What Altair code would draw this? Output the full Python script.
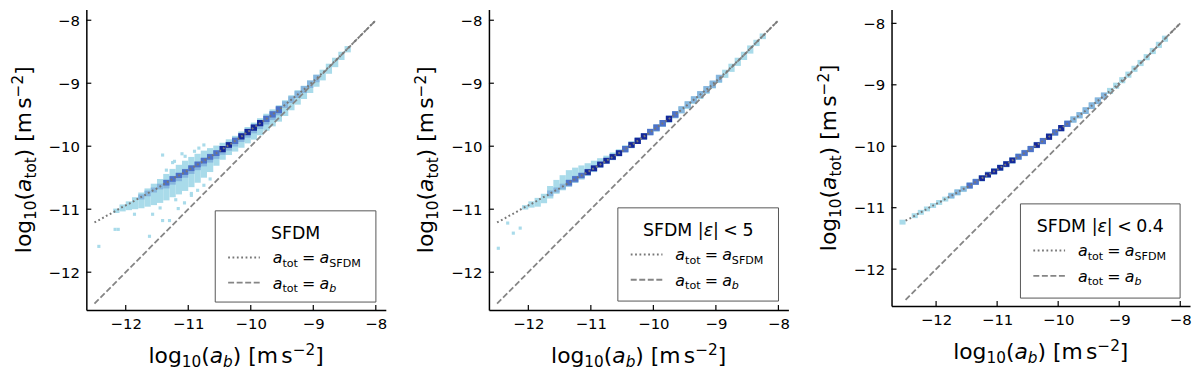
import altair as alt
import pandas as pd

# ---------------- data ----------------
# a_SFDM relation (dotted curve and ridge of the 2D histograms), log10 units
curve_x = [-12.6, -12.5, -12.4, -12.3, -12.2, -12.1, -12.0, -11.9, -11.8, -11.7,
           -11.6, -11.5, -11.4, -11.3, -11.2, -11.1, -11.0, -10.9, -10.8, -10.7,
           -10.6, -10.5, -10.4, -10.3, -10.2, -10.1, -10.0, -9.9, -9.8, -9.7,
           -9.6, -9.5, -9.4, -9.3, -9.2, -9.1, -9.0, -8.9, -8.8, -8.7,
           -8.6, -8.5, -8.4, -8.3, -8.2, -8.1, -8.0]
curve_y = [-11.26, -11.21, -11.16, -11.10, -11.05, -10.99, -10.94, -10.89, -10.83, -10.78,
           -10.72, -10.67, -10.61, -10.55, -10.49, -10.44, -10.38, -10.32, -10.26, -10.20,
           -10.14, -10.08, -10.01, -9.95, -9.88, -9.81, -9.74, -9.67, -9.60, -9.53,
           -9.46, -9.38, -9.30, -9.22, -9.14, -9.06, -8.97, -8.88, -8.79, -8.69,
           -8.60, -8.50, -8.40, -8.30, -8.20, -8.10, -8.00]
# 1:1 reference line
one_to_one = [-12.5, -8.0]

# histogram columns (one per curve_x interval): count level and vertical extent
p1_level = [0, 0, 0, 0, 1, 1, 1, 1, 2, 2, 2, 2, 3, 3, 3, 3, 3, 3, 3, 3,
            3, 4, 4, 3, 4, 4, 4, 4, 3, 3, 3, 2, 2, 2, 2, 2, 2, 1, 1, 1,
            1, 1, 0, 0, 0, 0]
p1_below = [0, 0, 0, 0, -0.04, -0.07, -0.10, -0.14, -0.18, -0.21,
            -0.24, -0.26, -0.28, -0.29, -0.30, -0.30, -0.30, -0.29, -0.27, -0.24,
            -0.20, -0.17, -0.16, -0.17, -0.18, -0.18, -0.19, -0.19, -0.19, -0.19,
            -0.19, -0.18, -0.17, -0.16, -0.15, -0.14, -0.13, -0.12, -0.11, -0.10,
            -0.08, -0.06, 0, 0, 0, 0]
p1_above = [0, 0, 0, 0, 0.03, 0.04, 0.04, 0.05, 0.07, 0.08,
            0.10, 0.12, 0.14, 0.16, 0.17, 0.18, 0.18, 0.17, 0.16, 0.14,
            0.12, 0.10, 0.09, 0.08, 0.08, 0.08, 0.08, 0.08, 0.08, 0.08,
            0.07, 0.07, 0.07, 0.07, 0.06, 0.06, 0.06, 0.05, 0.05, 0.05,
            0.05, 0.04, 0, 0, 0, 0]
p1_out_x = [-12.43, -12.17, -12.12, -11.62, -11.41, -11.30, -11.57, -11.86, -11.16, -11.06,
            -10.95, -11.41, -11.22, -10.83, -11.25, -11.05, -10.90, -11.35, -10.75, -11.20,
            -10.95, -10.75, -11.45, -10.65, -11.10, -10.85]
p1_out_y = [-11.59, -11.32, -11.32, -11.43, -11.18, -11.18, -11.08, -11.08, -10.99, -10.90,
            -10.75, -10.14, -10.24, -10.03, -10.26, -10.16, -10.08, -10.38, -9.98, -10.85,
            -10.78, -10.62, -10.98, -10.52, -10.12, -10.70]

p2_level = [0, 0, 0, 0, 0, 1, 1, 1, 1, 2, 2, 2, 3, 3, 3, 4, 4, 4, 4, 4,
            4, 3, 4, 4, 4, 3, 3, 3, 4, 3, 2, 2, 2, 2, 2, 2, 2, 1, 1, 1,
            1, 1, 1, 1, 0, 0]
p2_below = [0, 0, 0, 0, 0, -0.04, -0.06, -0.10, -0.10, -0.08,
            -0.06, -0.06, -0.06, -0.06, -0.06, -0.06, -0.06, -0.05, -0.05, -0.05,
            -0.05, -0.05, -0.05, -0.05, -0.05, -0.05, -0.06, -0.06, -0.06, -0.06,
            -0.06, -0.07, -0.07, -0.07, -0.07, -0.07, -0.07, -0.08, -0.08, -0.08,
            -0.08, -0.08, -0.06, -0.05, 0, 0]
p2_above = [0, 0, 0, 0, 0, 0.03, 0.04, 0.04, 0.05, 0.12,
            0.16, 0.18, 0.20, 0.18, 0.16, 0.14, 0.12, 0.10, 0.08, 0.07,
            0.06, 0.06, 0.06, 0.05, 0.05, 0.05, 0.05, 0.05, 0.05, 0.05,
            0.05, 0.05, 0.05, 0.05, 0.05, 0.05, 0.05, 0.05, 0.05, 0.05,
            0.05, 0.05, 0.04, 0.04, 0, 0]
p2_out_x = [-12.48, -12.33, -12.24, -12.13]
p2_out_y = [-11.62, -11.22, -11.38, -11.30]

p3_level = [1, 0, 1, 1, 1, 1, 1, 1, 2, 2, 2, 3, 3, 4, 4, 4, 4, 4, 4, 3,
            3, 3, 4, 3, 4, 3, 4, 3, 2, 2, 2, 2, 2, 2, 1, 1, 1, 1, 1, 1,
            1, 1, 1, 1, 0, 0]
p3_below = [-0.04, 0, -0.04, -0.04, -0.04, -0.04, -0.04, -0.04, -0.05, -0.05,
            -0.05, -0.05, -0.05, -0.05, -0.05, -0.05, -0.05, -0.05, -0.05, -0.05,
            -0.05, -0.05, -0.05, -0.05, -0.05, -0.05, -0.05, -0.05, -0.05, -0.05,
            -0.05, -0.05, -0.05, -0.05, -0.05, -0.05, -0.05, -0.05, -0.05, -0.05,
            -0.05, -0.05, -0.05, -0.05, 0, 0]
p3_above = [0.04, 0, 0.04, 0.04, 0.04, 0.04, 0.04, 0.04, 0.05, 0.05,
            0.05, 0.05, 0.05, 0.05, 0.05, 0.05, 0.05, 0.05, 0.05, 0.05,
            0.05, 0.05, 0.05, 0.05, 0.05, 0.05, 0.05, 0.05, 0.05, 0.05,
            0.05, 0.05, 0.05, 0.05, 0.05, 0.05, 0.05, 0.05, 0.05, 0.05,
            0.05, 0.05, 0.05, 0.05, 0, 0]
p3_out_x = []
p3_out_y = []

tick_values = [-12, -11, -10, -9, -8]
level_colors = ["#a9dbea", "#86b6de", "#4d72c9", "#15289a"]

legend_titles = [
    [("SFDM", "rm")],
    [("SFDM", "rm"), (0.32, "gap"), ("|", "rm"), ("ε", "it"), ("|", "rm"), (0.26, "gap"),
     ("<", "rm"), (0.26, "gap"), ("5", "rm")],
    [("SFDM", "rm"), (0.32, "gap"), ("|", "rm"), ("ε", "it"), ("|", "rm"), (0.26, "gap"),
     ("<", "rm"), (0.26, "gap"), ("0.4", "rm")],
]
label_sfdm = [("a", "it"), ("tot", "sub"), (0.26, "gap"), ("=", "rm"), (0.26, "gap"),
              ("a", "it"), ("SFDM", "sub")]
label_b = [("a", "it"), ("tot", "sub"), (0.26, "gap"), ("=", "rm"), (0.26, "gap"),
           ("a", "it"), ("b", "itsub")]
xtitle = [("log", "rm"), ("10", "sub"), ("(", "rm"), ("a", "it"), ("b", "itsub"), (")", "rm"),
          (0.32, "gap"), ("[m", "rm"), (0.15, "gap"), ("s", "rm"), ("−2", "sup"), ("]", "rm")]
ytitle = [("log", "rm"), ("10", "sub"), ("(", "rm"), ("a", "it"), ("tot", "sub"), (")", "rm"),
          (0.32, "gap"), ("[m", "rm"), (0.15, "gap"), ("s", "rm"), ("−2", "sup"), ("]", "rm")]

# ---------------- helpers ----------------
FONT = "DejaVu Sans"
ADV = {' ': 651, '(': 799, ')': 799, '[': 799, ']': 799, '0': 1303, '1': 1303, '2': 1303,
       '4': 1303, '5': 1303, '.': 651, 'l': 569, 'o': 1253, 'g': 1300, 'm': 1995, 's': 1067,
       't': 803, 'a': 1255, 'b': 1300, 'S': 1300, 'F': 1178, 'D': 1577, 'M': 1767,
       '=': 1716, '<': 1716, '|': 690, '−': 1716, 'ε': 1100}
ONE = pd.DataFrame({"k": [0]})
GRAY = "#858585"


def text_width(t, size):
    return sum(ADV.get(c, 1200) for c in t) * size / 2048.0


def rich(segs, S, x0, y0, angle=0, center=True):
    items, adv = [], 0.0
    for t, kind in segs:
        if kind == "gap":
            adv += t * S
            continue
        small = kind in ("sub", "itsub", "sup")
        size = S * 0.7 if small else S
        shift = 0.0
        if kind in ("sub", "itsub"):
            shift = 0.22 * S
        elif kind == "sup":
            shift = -0.34 * S
        items.append((t, size, adv, shift, kind in ("it", "itsub")))
        adv += text_width(t, size)
    start = -adv / 2.0 if center else 0.0
    layers = []
    for t, size, a, shift, italic in items:
        if angle == 0:
            px, py = x0 + start + a, y0 + shift
        else:
            px, py = x0 + shift, y0 - (start + a)
        mk = dict(text=t, font=FONT, fontSize=size, align="left", baseline="alphabetic",
                  color="black")
        if italic:
            mk["fontStyle"] = "italic"
        if angle:
            mk["angle"] = angle
        layers.append(alt.Chart(ONE).mark_text(**mk).encode(x=alt.value(px), y=alt.value(py)))
    return layers


def cell_table(level, below, above, ox, oy):
    rows = []
    for i, lv in enumerate(level):
        if lv == 0:
            continue
        xl, xr = curve_x[i], curve_x[i + 1]
        ya, yb = curve_y[i], curve_y[i + 1]
        cm = (ya + yb) / 2.0
        lo, hi = cm + below[i], cm + above[i]
        rows.append(dict(x=xl, x2=xr, y=lo, y2=hi, lev=1, z=0))
        if lv >= 3:
            rows.append(dict(x=xl, x2=xr, y=max(lo, cm - 0.09), y2=min(hi, cm + 0.05), lev=2, z=1))
        if lv >= 2:
            rows.append(dict(x=xl, x2=xr, y=min(ya, yb) - 0.015, y2=max(ya, yb) + 0.015, lev=lv, z=2))
    for a, b in zip(ox, oy):
        rows.append(dict(x=a - 0.025, x2=a + 0.025, y=b - 0.025, y2=b + 0.025, lev=1, z=0))
    return pd.DataFrame(rows).sort_values("z", kind="stable")


def panel(level, below, above, ox, oy, xdom, ydom, W, H, box, title_segs):
    xs = alt.Scale(domain=xdom, nice=False, zero=False)
    ys = alt.Scale(domain=ydom, nice=False, zero=False)
    ax = dict(values=tick_values, format="d", ticks=False, tickSize=0, grid=False,
              domainColor="black", domainWidth=1.5, labelFont=FONT, labelFontSize=15,
              labelColor="black", labelPadding=7, labelFlush=False, labelOverlap=False,
              title=None)
    cells = alt.Chart(cell_table(level, below, above, ox, oy)).mark_rect(strokeWidth=0).encode(
        x=alt.X("x:Q", scale=xs, axis=alt.Axis(**ax)),
        x2="x2:Q",
        y=alt.Y("y:Q", scale=ys, axis=alt.Axis(**ax)),
        y2="y2:Q",
        color=alt.Color("lev:O", scale=alt.Scale(domain=[1, 2, 3, 4], range=level_colors),
                        legend=None),
    )
    dashed = alt.Chart(pd.DataFrame({"x": one_to_one, "y": one_to_one})).mark_line(
        color=GRAY, strokeWidth=1.8, strokeDash=[6, 2.6]).encode(
        x=alt.X("x:Q", scale=xs), y=alt.Y("y:Q", scale=ys))
    dotted = alt.Chart(pd.DataFrame({"x": curve_x[1:], "y": curve_y[1:]})).mark_line(
        color="#777777", strokeWidth=2, strokeDash=[1.8, 2.6]).encode(
        x=alt.X("x:Q", scale=xs), y=alt.Y("y:Q", scale=ys))
    tdf = pd.DataFrame({"v": tick_values})
    xt = alt.Chart(tdf).mark_rule(color="black", strokeWidth=1.2).encode(
        x=alt.X("v:Q", scale=xs), y=alt.value(H), y2=alt.value(H - 5))
    yt = alt.Chart(tdf).mark_rule(color="black", strokeWidth=1.2).encode(
        y=alt.Y("v:Q", scale=ys), x=alt.value(0), x2=alt.value(5))
    bx1, by1, bx2, by2 = box
    frame = alt.Chart(ONE).mark_rect(fill="white", stroke="#555555", strokeWidth=1).encode(
        x=alt.value(bx1), x2=alt.value(bx2), y=alt.value(by1), y2=alt.value(by2))
    l1 = alt.Chart(ONE).mark_rule(color="#777777", strokeWidth=2, strokeDash=[1.8, 2.6]).encode(
        x=alt.value(bx1 + 13), x2=alt.value(bx1 + 45), y=alt.value(by1 + 47))
    l2 = alt.Chart(ONE).mark_rule(color=GRAY, strokeWidth=1.8, strokeDash=[6, 2.6]).encode(
        x=alt.value(bx1 + 13), x2=alt.value(bx1 + 45), y=alt.value(by1 + 72.5))
    texts = []
    texts += rich(title_segs, 17.5, (bx1 + bx2) / 2.0, by1 + 28)
    texts += rich(label_sfdm, 16, bx1 + 58, by1 + 53, center=False)
    texts += rich(label_b, 16, bx1 + 58, by1 + 78.5, center=False)
    texts += rich(xtitle, 22, W / 2.0, H + 53)
    texts += rich(ytitle, 22, -56, H / 2.0, angle=270)
    layers = [cells, dashed, dotted, xt, yt, frame, l1, l2] + texts
    return alt.layer(*layers).properties(width=W, height=H)


p1 = panel(p1_level, p1_below, p1_above, p1_out_x, p1_out_y,
           [-12.63, -7.84], [-12.60, -7.83], 302, 303, (130, 203, 292, 295), legend_titles[0])
p2 = panel(p2_level, p2_below, p2_above, p2_out_x, p2_out_y,
           [-12.63, -7.84], [-12.60, -7.83], 302, 303, (130, 200, 292, 294), legend_titles[1])
p3 = panel(p3_level, p3_below, p3_above, p3_out_x, p3_out_y,
           [-12.73, -7.84], [-12.60, -7.775], 301, 299, (130, 196, 291, 291), legend_titles[2])

chart = alt.hconcat(p1, p2, p3, spacing=27).configure_view(stroke=None).properties(
    padding={"left": 3, "top": 0, "right": 0, "bottom": 0}, background="white")

chart.save("out.html", embed_options={"renderer": "svg", "actions": False})
